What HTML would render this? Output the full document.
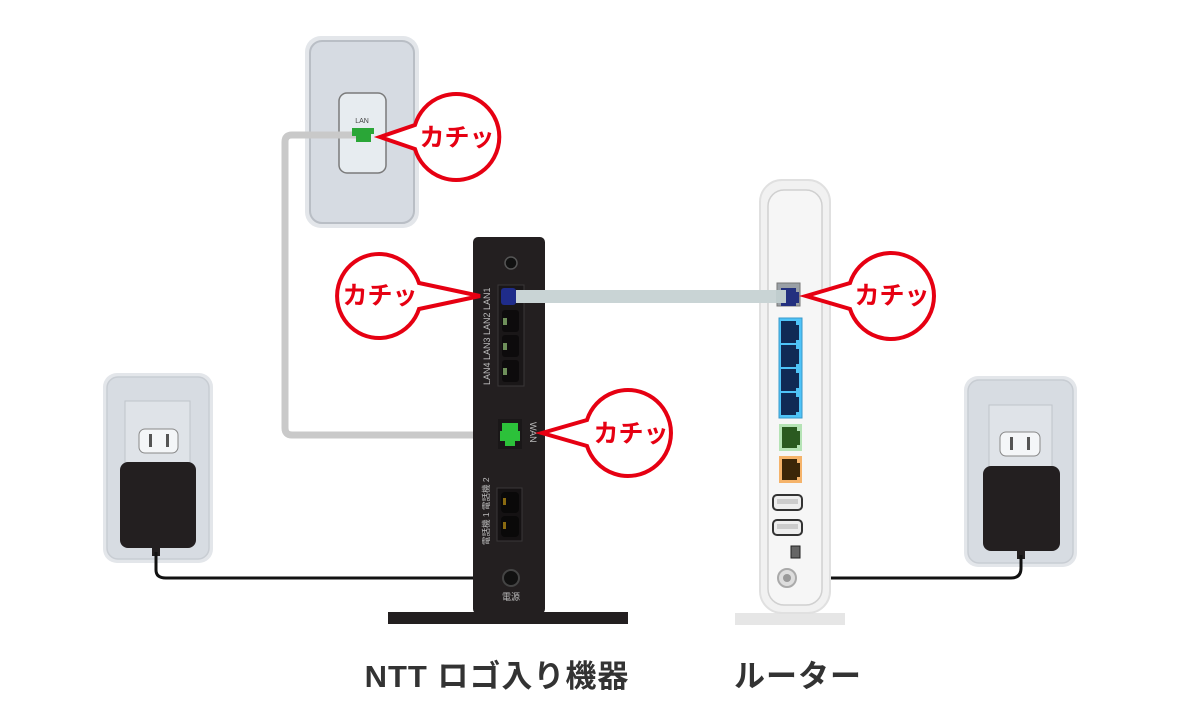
<!DOCTYPE html>
<html><head><meta charset="utf-8"><style>
html,body{margin:0;padding:0;background:#fff;}
svg{display:block;}
text{font-family:"Liberation Sans","Noto Sans CJK JP",sans-serif;}
</style></head><body>
<svg width="1200" height="720" viewBox="0 0 1200 720" xmlns="http://www.w3.org/2000/svg">
<rect width="1200" height="720" fill="#fff"/>

<!-- Left outlet -->
<rect x="103" y="373" width="110" height="190" rx="14" fill="#e3e6ea"/>
<rect x="107" y="377" width="102" height="182" rx="11" fill="#d7dce2" stroke="#c8cdd3" stroke-width="1.5"/>
<rect x="125" y="401" width="65" height="70" fill="#dfe3e8" stroke="#bfc4ca"/>
<rect x="139" y="429" width="39" height="24" rx="6" fill="#f4f6f8" stroke="#888"/>
<rect x="149" y="434" width="3" height="13" fill="#555"/>
<rect x="166" y="434" width="3" height="13" fill="#555"/>
<rect x="120" y="462" width="76" height="86" rx="8" fill="#231f20"/>
<rect x="152" y="546" width="8" height="10" fill="#231f20"/>
<path d="M156 552 L156 570 Q156 578 166 578 L505 578" fill="none" stroke="#111" stroke-width="3"/>

<!-- Right outlet -->
<rect x="964" y="376" width="113" height="191" rx="14" fill="#e3e6ea"/>
<rect x="968" y="380" width="105" height="183" rx="11" fill="#d7dce2" stroke="#c8cdd3" stroke-width="1.5"/>
<rect x="989" y="405" width="63" height="68" fill="#dfe3e8" stroke="#bfc4ca"/>
<rect x="1000" y="432" width="40" height="24" rx="6" fill="#f4f6f8" stroke="#888"/>
<rect x="1010" y="437" width="3" height="13" fill="#555"/>
<rect x="1027" y="437" width="3" height="13" fill="#555"/>
<rect x="983" y="466" width="77" height="85" rx="8" fill="#231f20"/>
<rect x="1017" y="549" width="8" height="10" fill="#231f20"/>
<path d="M1021 555 L1021 568 Q1021 578 1011 578 L790 578" fill="none" stroke="#111" stroke-width="3"/>

<!-- Wall LAN plate -->
<rect x="305" y="36" width="114" height="192" rx="16" fill="#e3e6ea"/>
<rect x="310" y="41" width="104" height="182" rx="12" fill="#d6dbe2" stroke="#b9bec5" stroke-width="2"/>
<rect x="339" y="93" width="47" height="80" rx="8" fill="#e7ecf0" stroke="#7a7a7a" stroke-width="1.5"/>
<text x="362" y="123" font-size="7" fill="#444" text-anchor="middle">LAN</text>

<!-- Gray cable wall to ONU -->
<path d="M356 135 L292 135 Q285 135 285 142 L285 428 Q285 435 292 435 L506 435" fill="none" stroke="#c9c9c9" stroke-width="7"/>
<path d="M352 128 L374 128 L374 134 L371 134 L371 142 L356 142 L356 136 L352 136 Z" fill="#2aa637"/>

<!-- ONU -->
<rect x="388" y="612" width="240" height="12" fill="#231f20"/>
<rect x="473" y="237" width="72" height="377" rx="5" fill="#231f20"/>
<circle cx="511" cy="263" r="6" fill="#111" stroke="#555" stroke-width="1.5"/>
<rect x="498" y="285" width="26" height="101" fill="#1a1718" stroke="#3a3738"/>
<rect x="501" y="288" width="15" height="17" rx="3" fill="#1f2c8a"/>
<g fill="#0d0b0c">
<rect x="502" y="310" width="17" height="22" rx="3"/>
<rect x="502" y="335" width="17" height="22" rx="3"/>
<rect x="502" y="360" width="17" height="22" rx="3"/>
</g>
<g fill="#6e8f5a">
<rect x="503" y="318" width="4" height="7"/><rect x="503" y="343" width="4" height="7"/><rect x="503" y="368" width="4" height="7"/>
</g>
<text transform="translate(490,385) rotate(-90)" font-size="9" fill="#bbb">LAN4 LAN3 LAN2 LAN1</text>
<rect x="498" y="419" width="24" height="30" fill="#1a1718"/>
<path d="M502 423 L518 423 L518 431 L520 431 L520 441 L515 441 L515 446 L505 446 L505 441 L500 441 L500 431 L502 431 Z" fill="#2cc13a"/>
<text transform="translate(530,422) rotate(90)" font-size="9" fill="#bbb">WAN</text>
<rect x="497" y="488" width="25" height="53" fill="#151213" stroke="#3a3738"/>
<rect x="501" y="492" width="18" height="21" rx="4" fill="#0a0909"/>
<rect x="501" y="516" width="18" height="21" rx="4" fill="#0a0909"/>
<rect x="503" y="498" width="3" height="7" fill="#8a6a10"/><rect x="503" y="522" width="3" height="7" fill="#8a6a10"/>
<text transform="translate(489,545) rotate(-90)" font-size="8.5" fill="#bbb">電話機 1 電話機 2</text>
<circle cx="511" cy="578" r="8" fill="#111" stroke="#444" stroke-width="2"/>
<text x="511" y="600" font-size="9" fill="#bbb" text-anchor="middle">電源</text>

<!-- Router -->
<rect x="735" y="613" width="110" height="12" fill="#e6e6e6"/>
<rect x="760" y="180" width="70" height="433" rx="22" fill="#f1f1f1" stroke="#e0e0e0" stroke-width="2"/>
<rect x="768" y="190" width="54" height="415" rx="16" fill="#f6f6f6" stroke="#d0d0d0" stroke-width="1.5"/>
<rect x="777" y="283" width="23" height="23" fill="#9aa0a6" stroke="#777"/>
<rect x="779" y="318" width="23" height="100" fill="#4fc3f7" stroke="#3a9acb"/>
<g fill="#102a55">
<path d="M781 321h15v4h3v15h-3v3h-15z"/><path d="M781 345h15v4h3v15h-3v3h-15z"/><path d="M781 369h15v4h3v15h-3v3h-15z"/><path d="M781 393h15v4h3v15h-3v3h-15z"/>
</g>
<rect x="779" y="424" width="23" height="27" fill="#b5e3b5"/>
<path d="M782 427h15v4h3v14h-3v3h-15z" fill="#2a5a20"/>
<rect x="779" y="456" width="23" height="27" fill="#f5b36a"/>
<path d="M782 459h15v4h3v14h-3v3h-15z" fill="#3b2608"/>
<rect x="773" y="495" width="29" height="15" rx="4" fill="#eee" stroke="#333" stroke-width="2"/>
<rect x="777" y="499" width="21" height="5" fill="#ccc"/>
<rect x="773" y="520" width="29" height="15" rx="4" fill="#eee" stroke="#333" stroke-width="2"/>
<rect x="777" y="524" width="21" height="5" fill="#ccc"/>
<rect x="791" y="546" width="9" height="12" fill="#666" stroke="#222"/>
<circle cx="787" cy="578" r="9" fill="#ddd" stroke="#aaa" stroke-width="2"/>
<circle cx="787" cy="578" r="4" fill="#999"/>

<!-- Blue cable -->
<rect x="516" y="290" width="268" height="13" fill="#c9d4d5"/>
<path d="M781 288h15v4h3v11h-3v3h-15z" fill="#23307f"/>
<rect x="776" y="290" width="10" height="13" fill="#c0cdce"/>

<!-- Bubbles -->
<g fill="#fff" stroke="#e60012" stroke-width="4" stroke-linejoin="miter">
<path d="M380 137 L415 125 A43 43 0 1 1 415 149 Z"/>
<path d="M480 296 L419 283 A42 42 0 1 0 419 309 Z"/>
<path d="M542 433 L587 420 A43 43 0 1 1 587 446 Z"/>
<path d="M806 296 L850 283 A43 43 0 1 1 850 309 Z"/>
</g>
<g fill="#e60012" font-size="25" font-weight="bold" text-anchor="middle">
<text x="457" y="146">カチッ</text>
<text x="380" y="304">カチッ</text>
<text x="631" y="442">カチッ</text>
<text x="892" y="304">カチッ</text>
</g>

<!-- Labels -->
<text x="497" y="687" font-size="31" font-weight="bold" fill="#333" text-anchor="middle" letter-spacing="1">NTT ロゴ入り機器</text>
<text x="798" y="687" font-size="31" font-weight="bold" fill="#333" text-anchor="middle" letter-spacing="1">ルーター</text>
</svg>
</body></html>
